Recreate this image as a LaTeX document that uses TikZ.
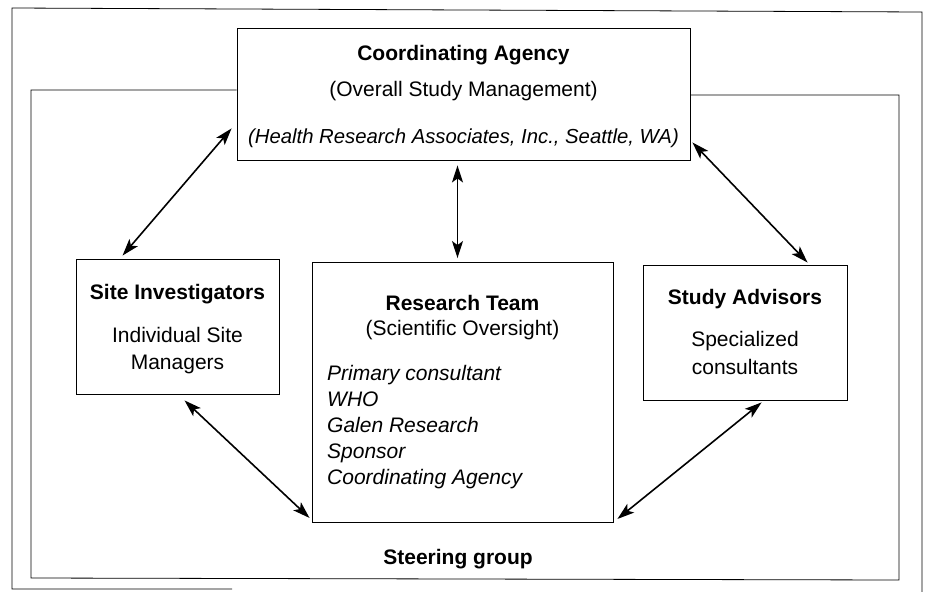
\documentclass[tikz,border=0pt]{standalone}
\usepackage{fontspec}
\setmainfont{Liberation Sans}
\usetikzlibrary{calc,arrows.meta}
\begin{document}
\begin{tikzpicture}[x=1pt,y=-1pt,
  every node/.style={font=\fontsize{21}{25}\selectfont, inner sep=0pt},
  boxnode/.style={draw, line width=0.9pt, fill=white},
  frameline/.style={line width=0.8pt},
  link/.style={line width=1.6pt, {Stealth[length=17pt,width=11pt,inset=4pt]}-{Stealth[length=17pt,width=11pt,inset=4pt]}},
  lbl/.style={anchor=base},
  boldlbl/.style={anchor=base, font=\fontsize{21}{25}\selectfont\bfseries},
  itlbl/.style={anchor=base west, font=\fontsize{21}{25}\selectfont\itshape}]
\useasboundingbox[fill=white] (0,0) rectangle (927,592);

% outer frame
\draw[frameline] (232,589) -- (12,589) -- (12,8) -- (922,12) -- (922,592);

% boxes
\node[boxnode, minimum width=453pt, minimum height=132pt] (coord) at (463.5,94) {};
\node[boxnode, minimum width=203pt, minimum height=135pt] (site) at (177.5,326.5) {};
\node[boxnode, minimum width=301pt, minimum height=260pt] (team) at (462.5,392.5) {};
\node[boxnode, minimum width=204pt, minimum height=135pt] (study) at (745,332.5) {};

% inner frame (steering group)
\draw[frameline] (coord.west |- 0,90) -- (31,90) -- (31,578) -- (899,580) -- (899,95) -- (coord.east |- 0,95);

% texts
\node[boldlbl] (ct) at (463.5,60) {Coordinating Agency};
\node[lbl] (cs) at (463.5,96) {(Overall Study Management)};
\node[lbl, font=\fontsize{20.3}{25}\selectfont\itshape] (ch) at (463.5,143) {(Health Research Associates, Inc., Seattle, WA)};

\node[boldlbl] (st) at (177.5,299) {Site Investigators};
\node[lbl] (s1) at (177.5,342) {Individual Site};
\node[lbl] (s2) at (177.5,369) {Managers};

\node[boldlbl] (tt) at (462.5,310) {Research Team};
\node[lbl] (ts) at (462.5,335) {(Scientific Oversight)};
\node[itlbl] (t1) at (327,380) {Primary consultant};
\node[itlbl] (t2) at (327,406) {WHO};
\node[itlbl] (t3) at (327,432) {Galen Research};
\node[itlbl] (t4) at (327,458) {Sponsor};
\node[itlbl] (t5) at (327,484) {Coordinating Agency};

\node[boldlbl] (at) at (745,304) {Study Advisors};
\node[lbl] (a1) at (745,346) {Specialized};
\node[lbl] (a2) at (745,374) {consultants};

\node[boldlbl] (sg) at (458,564) {Steering group};

% connectors
\draw[link] ($(coord.south west)+(-5,-32)$) -- ($(site.north west)+(47,-3)$);
\draw[link] ($(coord.south)+(-6,5)$) -- ($(team.north)+(-5,-4)$);
\draw[link] ($(coord.south east)+(2,-18)$) -- ($(study.north west)+(165,-2)$);
\draw[link] ($(site.south west)+(109,6)$) -- ($(team.south west)+(-2,-5)$);
\draw[link] ($(study.south west)+(119,2)$) -- ($(team.south east)+(4,-4)$);
\end{tikzpicture}
\end{document}
